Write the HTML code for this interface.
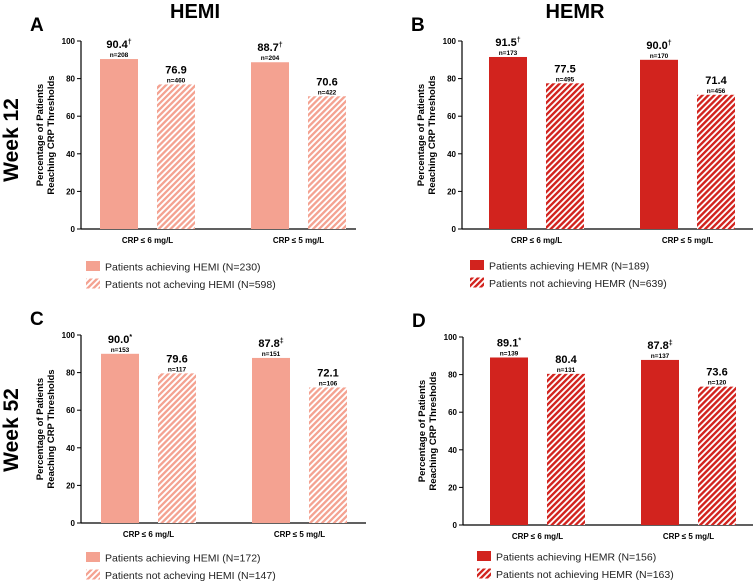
<!DOCTYPE html>
<html><head><meta charset="utf-8"><style>
html,body{margin:0;padding:0;background:#fff;}
svg{display:block;font-family:"Liberation Sans",Arial,sans-serif;}
</style></head><body>
<svg id="chart" width="756" height="581" viewBox="0 0 756 581">
<defs>
<pattern id="hatchSalmon" patternUnits="userSpaceOnUse" width="4.2" height="4.2" patternTransform="rotate(45)">
<rect width="4.2" height="4.2" fill="#fff"/><rect width="2.3" height="4.2" fill="#F4A291"/></pattern>
<pattern id="hatchRed" patternUnits="userSpaceOnUse" width="4.2" height="4.2" patternTransform="rotate(45)">
<rect width="4.2" height="4.2" fill="#fff"/><rect width="2.4" height="4.2" fill="#D2231E"/></pattern>
</defs>
<text x="195" y="18" text-anchor="middle" font-size="20" font-weight="bold">HEMI</text>
<text x="575" y="18" text-anchor="middle" font-size="20" font-weight="bold">HEMR</text>
<text transform="translate(18,140) rotate(-90)" text-anchor="middle" font-size="21" font-weight="bold">Week 12</text>
<text transform="translate(18,430) rotate(-90)" text-anchor="middle" font-size="21" font-weight="bold">Week 52</text>
<g id="panels"></g>
</svg>
<script>
const categories = ["CRP \u2264 6 mg/L", "CRP \u2264 5 mg/L"];
const yTicks = [0, 20, 40, 60, 80, 100];
const panelLetters = ["A", "B", "C", "D"];
const achievingA = [90.4, 88.7];
const notAchievingA = [76.9, 70.6];
const achievingNA = ["n=208", "n=204"];
const notAchievingNA = ["n=460", "n=422"];
const achievingMarkA = ["\u2020", "\u2020"];
const achievingB = [91.5, 90.0];
const notAchievingB = [77.5, 71.4];
const achievingNB = ["n=173", "n=170"];
const notAchievingNB = ["n=495", "n=456"];
const achievingMarkB = ["\u2020", "\u2020"];
const achievingC = [90.0, 87.8];
const notAchievingC = [79.6, 72.1];
const achievingNC = ["n=153", "n=151"];
const notAchievingNC = ["n=117", "n=106"];
const achievingMarkC = ["*", "\u2021"];
const achievingD = [89.1, 87.8];
const notAchievingD = [80.4, 73.6];
const achievingND = ["n=139", "n=137"];
const notAchievingND = ["n=131", "n=120"];
const achievingMarkD = ["*", "\u2021"];
const legendA = ["Patients achieving HEMI (N=230)", "Patients not acheving HEMI (N=598)"];
const legendB = ["Patients achieving HEMR (N=189)", "Patients not achieving HEMR (N=639)"];
const legendC = ["Patients achieving HEMI (N=172)", "Patients not acheving HEMI (N=147)"];
const legendD = ["Patients achieving HEMR (N=156)", "Patients not achieving HEMR (N=163)"];

const NS = "http://www.w3.org/2000/svg";
const root = document.getElementById("panels");
function mk(tag, attrs, parent, text) {
  const e = document.createElementNS(NS, tag);
  for (const k in attrs) e.setAttribute(k, attrs[k]);
  if (text !== undefined) e.textContent = text;
  parent.appendChild(e);
  return e;
}
function panel(letter, ax, top, bot, xEnd, barOff, color, hatch, ach, nach, achN, nachN, marks, legend, legY, lx) {
  const g = mk("g", {}, root);
  
  
  const y = v => bot - (v / 100) * (bot - top);
  const lt = mk("text", {x: ax - 51, y: top - 10, "font-size": 19, "font-weight": "bold"}, g, letter);
  
  
  const yt = mk("text", {transform: `translate(${ax - 33},${(top + bot) / 2}) rotate(-90)`, "text-anchor": "middle", "font-size": 9.5, "font-weight": "bold"}, g);
  
  
  mk("tspan", {x: 0, dy: -5}, yt, "Percentage of Patients");
  mk("tspan", {x: 0, dy: 11}, yt, "Reaching CRP Thresholds");
  const axisY = mk("line", {x1: ax, y1: top, x2: ax, y2: bot + 0.5, stroke: "#000", "stroke-width": 1.2}, g);
  
  
  const axisX = mk("line", {x1: ax, y1: bot, x2: xEnd, y2: bot, stroke: "#000", "stroke-width": 1.2}, g);
  
  
  yTicks.forEach(t => {
    const tk = mk("line", {x1: ax - 4, y1: y(t), x2: ax, y2: y(t), stroke: "#000", "stroke-width": 1}, g);
    
    
    const tl = mk("text", {x: ax - 6, y: y(t) + 3, "text-anchor": "end", "font-size": 8, "font-weight": "bold"}, g, String(t));
    
    
  });
  const bw = 38, groupW = 151;
  categories.forEach((c, i) => {
    const x1 = ax + barOff + i * groupW, x2 = x1 + 57;
    const b1 = mk("rect", {x: x1, y: y(ach[i]), width: bw, height: bot - y(ach[i]), fill: color}, g);
    
    
    const b2 = mk("rect", {x: x2, y: y(nach[i]), width: bw, height: bot - y(nach[i]), fill: `url(#${hatch})`}, g);
    
    
    const v1 = mk("text", {x: x1 + bw / 2, y: y(ach[i]) - 11, "text-anchor": "middle", "font-size": 11, "font-weight": "bold"}, g, ach[i].toFixed(1));
    mk("tspan", {"font-size": 7, dy: -4}, v1, marks[i]);
    
    
    const n1 = mk("text", {x: x1 + bw / 2, y: y(ach[i]) - 2, "text-anchor": "middle", "font-size": 6.5, "font-weight": "bold"}, g, achN[i]);
    
    
    const v2 = mk("text", {x: x2 + bw / 2, y: y(nach[i]) - 11, "text-anchor": "middle", "font-size": 11, "font-weight": "bold"}, g, nach[i].toFixed(1));
    
    
    const n2 = mk("text", {x: x2 + bw / 2, y: y(nach[i]) - 2, "text-anchor": "middle", "font-size": 6.5, "font-weight": "bold"}, g, nachN[i]);
    
    
    const cl = mk("text", {x: (x1 + x2 + bw) / 2, y: bot + 14, "text-anchor": "middle", "font-size": 8, "font-weight": "bold"}, g, c);
    
    
  });
  legend.forEach((t, i) => {
    const ly = legY + i * 17.5;
    const sw = mk("rect", {x: lx, y: ly - 6, width: 14, height: 10, fill: i === 0 ? color : `url(#${hatch})`}, g);
    
    
    const tx = mk("text", {x: lx + 19, y: ly + 3.5, "font-size": 10.5, fill: "#222"}, g, t);
    
    
  });
}
panel(panelLetters[0], 81, 41, 229, 356, 19, "#F4A291", "hatchSalmon", achievingA, notAchievingA, achievingNA, notAchievingNA, achievingMarkA, legendA, 267, 86);
panel(panelLetters[1], 462, 41, 229, 753, 27, "#D2231E", "hatchRed", achievingB, notAchievingB, achievingNB, notAchievingNB, achievingMarkB, legendB, 266, 470);
panel(panelLetters[2], 81, 335, 523, 366, 20, "#F4A291", "hatchSalmon", achievingC, notAchievingC, achievingNC, notAchievingNC, achievingMarkC, legendC, 558, 86);
panel(panelLetters[3], 463, 337, 525, 753, 27, "#D2231E", "hatchRed", achievingD, notAchievingD, achievingND, notAchievingND, achievingMarkD, legendD, 557, 477);
</script>
</body></html>
